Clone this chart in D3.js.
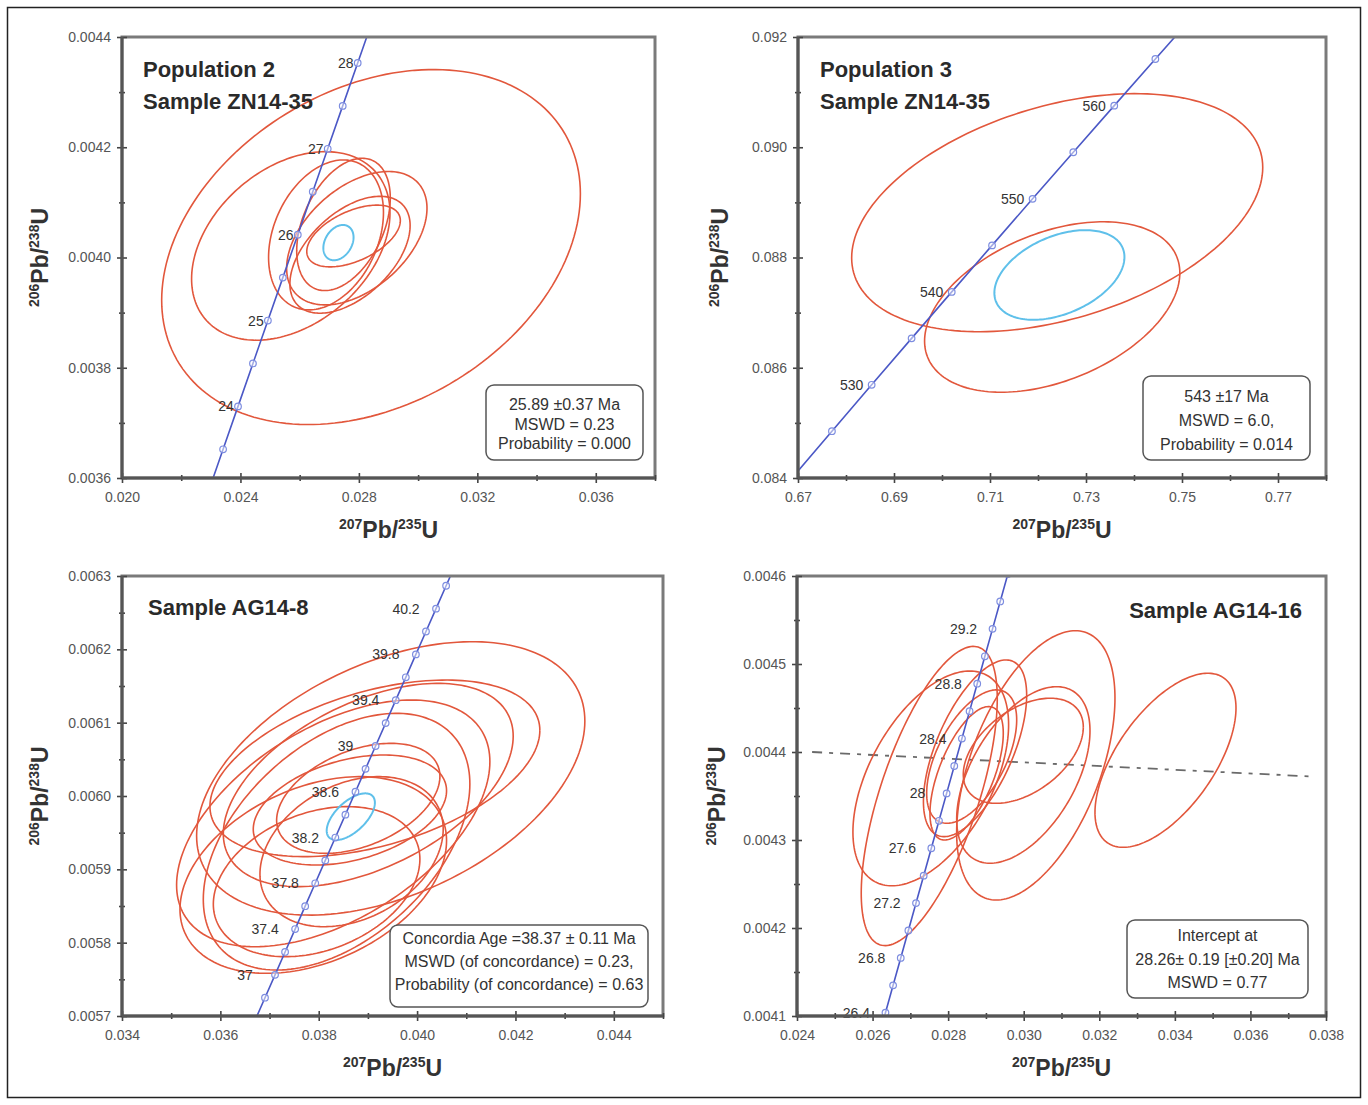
<!DOCTYPE html>
<html>
<head>
<meta charset="utf-8">
<script src="https://cdn.jsdelivr.net/npm/d3@7"></script>
<style>
  body { margin: 0; background: #fff }
  text { font-family: "Liberation Sans", Arial, sans-serif }
</style>
</head>
<body>
<svg id="canvas" width="1368" height="1105"></svg>
<script>
//////////////////////////////////////////
// panel 1 - Population 2, ZN14-35      //
//////////////////////////////////////////
const p1Title = ["Population 2", "Sample ZN14-35"]
const p1XTicks = [0.020, 0.024, 0.028, 0.032, 0.036]
const p1XMinor = [0.022, 0.026, 0.030, 0.034, 0.038]
const p1YTicks = [0.0036, 0.0038, 0.0040, 0.0042, 0.0044]
const p1YMinor = [0.0037, 0.0039, 0.0041, 0.0043]
// concordia points (age Ma, 207Pb/235U, 206Pb/238U)
const p1ConcAge = [23, 23.5, 24, 24.5, 25, 25.5, 26, 26.5, 27, 27.5, 28, 28.5]
const p1Conc207 = [0.02291004, 0.02341386, 0.02391794, 0.02442227, 0.02492684, 0.02543166, 0.02593673, 0.02644206, 0.02694762, 0.02745344, 0.02795951, 0.02846582]
const p1Conc206 = [0.00357424, 0.00365208, 0.00372993, 0.00380779, 0.00388565, 0.00396351, 0.00404138, 0.00411926, 0.00419715, 0.00427504, 0.00435293, 0.00443084]
const p1LabelAges = [24, 25, 26, 27, 28]
// error ellipses : centre, 1 sigma, rho
const p1EllX = [0.02841, 0.02570, 0.02689, 0.02793, 0.02770, 0.02748, 0.02782]
const p1EllSX = [0.00707, 0.00335, 0.00194, 0.00237, 0.00203, 0.00158, 0.00158]
const p1EllY = [0.004019, 0.004021, 0.004041, 0.004035, 0.004005, 0.004060, 0.004039]
const p1EllSY = [0.000322, 0.000171, 0.000136, 0.000121, 0.000106, 0.000120, 0.000056]
const p1EllRho = [0.30, 0.35, 0.30, 0.45, 0.50, 0.40, 0.50]
const p1Mean = [0.02731, 0.00051, 0.004027, 0.000032, 0.30]
const p1Box = ["25.89 \u00b10.37 Ma", "MSWD = 0.23", "Probability = 0.000"]

//////////////////////////////////////////
// panel 2 - Population 3, ZN14-35      //
//////////////////////////////////////////
const p2Title = ["Population 3", "Sample ZN14-35"]
const p2XTicks = [0.67, 0.69, 0.71, 0.73, 0.75, 0.77]
const p2XMinor = [0.68, 0.70, 0.72, 0.74, 0.76, 0.78]
const p2YTicks = [0.084, 0.086, 0.088, 0.090, 0.092]
const p2YMinor = [0.085, 0.087, 0.089, 0.091]
const p2ConcAge = [520, 525, 530, 535, 540, 545, 550, 555, 560, 565, 570]
const p2Conc207 = [0.6688287, 0.6770668, 0.6853453, 0.6936653, 0.7020255, 0.7104274, 0.7188708, 0.7273558, 0.7358826, 0.7444516, 0.7530629]
const p2Conc206 = [0.0840077, 0.0848488, 0.0856906, 0.0865330, 0.0873762, 0.0882198, 0.0890642, 0.0899092, 0.0907549, 0.0916012, 0.0924482]
const p2LabelAges = [530, 540, 550, 560]
const p2EllX = [0.72400, 0.72296]
const p2EllSX = [0.04282, 0.02659]
const p2EllY = [0.088813, 0.087102]
const p2EllSY = [0.002159, 0.001546]
const p2EllRho = [0.38, 0.40]
const p2Mean = [0.72446, 0.01355, 0.087683, 0.000813, 0.40]
const p2Box = ["543 \u00b117 Ma", "MSWD = 6.0,", "Probability = 0.014"]

//////////////////////////////////////////
// panel 3 - AG14-8                     //
//////////////////////////////////////////
const p3Title = ["Sample AG14-8"]
const p3XTicks = [0.034, 0.036, 0.038, 0.040, 0.042, 0.044]
const p3XMinor = [0.035, 0.037, 0.039, 0.041, 0.043, 0.045]
const p3YTicks = [0.0057, 0.0058, 0.0059, 0.0060, 0.0061, 0.0062, 0.0063]
const p3YMinor = [0.00575, 0.00585, 0.00595, 0.00605, 0.00615, 0.00625]
const p3ConcAge = [36.6, 36.8, 37, 37.2, 37.4, 37.6, 37.8, 38, 38.2, 38.4, 38.6, 38.8, 39, 39.2, 39.4, 39.6, 39.8, 40, 40.2, 40.4, 40.6]
const p3Conc207 = [0.03670303, 0.03690724, 0.0371115, 0.03731581, 0.03752015, 0.03772452, 0.03792895, 0.03813341, 0.03833791, 0.03854246, 0.03874704, 0.03895166, 0.03915631, 0.03936102, 0.03956576, 0.03977055, 0.03997537, 0.04018023, 0.04038513, 0.04059008, 0.04079508]
const p3Conc206 = [0.00569372, 0.00572493, 0.00575613, 0.00578733, 0.00581854, 0.00584974, 0.00588095, 0.00591216, 0.00594337, 0.00597458, 0.00600579, 0.00603700, 0.00606821, 0.00609943, 0.00613064, 0.00616186, 0.00619307, 0.00622429, 0.00625551, 0.00628673, 0.00631795]
const p3LabelAges = [37, 37.4, 37.8, 38.2, 38.6, 39, 39.4, 39.8, 40.2]
const p3EllX = [0.039464, 0.039142, 0.039007, 0.038295, 0.038804, 0.038634, 0.037889, 0.037957, 0.038668, 0.038363]
const p3EllSX = [0.003947, 0.003354, 0.002947, 0.003185, 0.001660, 0.001965, 0.002710, 0.002100, 0.001863, 0.002710]
const p3EllY = [0.0060240, 0.0060377, 0.0060150, 0.0059627, 0.0059968, 0.0059809, 0.0058923, 0.0058832, 0.0059241, 0.0059377]
const p3EllSY = [0.0001864, 0.0001204, 0.0001386, 0.0001682, 0.0000750, 0.0000750, 0.0001341, 0.0001023, 0.0001023, 0.0001750]
const p3EllRho = [0.42, 0.43, 0.48, 0.50, 0.40, 0.35, 0.35, 0.30, 0.30, 0.45]
const p3Mean = [0.038652, 0.00049, 0.0059718, 0.0000318, 0.60]
const p3Box = ["Concordia Age =38.37 \u00b1 0.11 Ma", "MSWD (of concordance) = 0.23,", "Probability (of concordance) = 0.63"]

//////////////////////////////////////////
// panel 4 - AG14-16                    //
//////////////////////////////////////////
const p4Title = ["Sample AG14-16"]
const p4XTicks = [0.024, 0.026, 0.028, 0.030, 0.032, 0.034, 0.036, 0.038]
const p4XMinor = [0.025, 0.027, 0.029, 0.031, 0.033, 0.035, 0.037]
const p4YTicks = [0.0041, 0.0042, 0.0043, 0.0044, 0.0045, 0.0046]
const p4YMinor = [0.00415, 0.00425, 0.00435, 0.00445, 0.00455]
const p4ConcAge = [26.2, 26.4, 26.6, 26.8, 27, 27.2, 27.4, 27.6, 27.8, 28, 28.2, 28.4, 28.6, 28.8, 29, 29.2, 29.4, 29.6, 29.8]
const p4Conc207 = [0.02613885, 0.02634099, 0.02654317, 0.02674538, 0.02694764, 0.02714994, 0.02735228, 0.02755466, 0.02775707, 0.02795953, 0.02816202, 0.02836457, 0.02856714, 0.02876976, 0.02897242, 0.02917511, 0.02937785, 0.02958063, 0.02978344]
const p4Conc206 = [0.00407255, 0.00410370, 0.00413485, 0.00416601, 0.00419716, 0.00422831, 0.00425947, 0.00429063, 0.00432179, 0.00435295, 0.00438410, 0.00441527, 0.00444643, 0.00447759, 0.00450875, 0.00453992, 0.00457109, 0.00460225, 0.00463342]
const p4LabelAges = [26.4, 26.8, 27.2, 27.6, 28, 28.4, 28.8, 29.2]
const p4EllX = [0.033752, 0.030320, 0.029990, 0.029989, 0.027540, 0.027500, 0.028712, 0.028623, 0.028489]
const p4EllSX = [0.001866, 0.002095, 0.001764, 0.001588, 0.002060, 0.001800, 0.001366, 0.001191, 0.000970]
const p4EllY = [0.0043906, 0.0043848, 0.0043739, 0.0044014, 0.0043700, 0.0043500, 0.0044042, 0.0043948, 0.0043758]
const p4EllSY = [0.0000989, 0.0001530, 0.0001003, 0.0000597, 0.0001220, 0.0001700, 0.0001004, 0.0000758, 0.0000758]
const p4EllRho = [0.60, 0.50, 0.50, 0.45, 0.50, 0.65, 0.60, 0.55, 0.60]
// discordia (dash-dot) end points
const p4Disc207 = [0.02440, 0.03770]
const p4Disc206 = [0.004400, 0.004372]
const p4Box = ["Intercept at", "28.26\u00b1 0.19 [\u00b10.20] Ma", "MSWD = 0.77"]

// layout per panel (positions / styles only)
const panels = [
  { xDom: [0.020, 0.038], yDom: [0.0036, 0.0044], left: 122, right: 655, top: 37, bottom: 478,
    xFmt: ".3f", yFmt: ".4f", xTicks: p1XTicks, xMinor: p1XMinor, yTicks: p1YTicks, yMinor: p1YMinor,
    age: p1ConcAge, c207: p1Conc207, c206: p1Conc206, labelAges: p1LabelAges, labelDx: -12,
    ex: p1EllX, esx: p1EllSX, ey: p1EllY, esy: p1EllSY, erho: p1EllRho, mean: p1Mean,
    title: p1Title, titleX: 143, titleY: [77, 109], titleAnchor: "start",
    box: p1Box, boxR: [486, 385, 157, 75], boxY: [410, 429.5, 448.5], yTitleX: 48 },
  { xDom: [0.67, 0.78], yDom: [0.084, 0.092], left: 798, right: 1326, top: 37, bottom: 478,
    xFmt: ".2f", yFmt: ".3f", xTicks: p2XTicks, xMinor: p2XMinor, yTicks: p2YTicks, yMinor: p2YMinor,
    age: p2ConcAge, c207: p2Conc207, c206: p2Conc206, labelAges: p2LabelAges, labelDx: -20,
    ex: p2EllX, esx: p2EllSX, ey: p2EllY, esy: p2EllSY, erho: p2EllRho, mean: p2Mean,
    title: p2Title, titleX: 820, titleY: [77, 109], titleAnchor: "start",
    box: p2Box, boxR: [1143, 376, 167, 84], boxY: [402, 426, 450], yTitleX: 728 },
  { xDom: [0.034, 0.045], yDom: [0.0057, 0.0063], left: 122, right: 663, top: 576, bottom: 1016,
    xFmt: ".3f", yFmt: ".4f", xTicks: p3XTicks, xMinor: p3XMinor, yTicks: p3YTicks, yMinor: p3YMinor,
    age: p3ConcAge, c207: p3Conc207, c206: p3Conc206, labelAges: p3LabelAges, labelDx: -30,
    ex: p3EllX, esx: p3EllSX, ey: p3EllY, esy: p3EllSY, erho: p3EllRho, mean: p3Mean,
    title: p3Title, titleX: 148, titleY: [615], titleAnchor: "start",
    box: p3Box, boxR: [390, 925, 258, 82], boxY: [944, 967, 990], yTitleX: 48 },
  { xDom: [0.024, 0.038], yDom: [0.0041, 0.0046], left: 797, right: 1326, top: 576, bottom: 1016,
    xFmt: ".3f", yFmt: ".4f", xTicks: p4XTicks, xMinor: p4XMinor, yTicks: p4YTicks, yMinor: p4YMinor,
    age: p4ConcAge, c207: p4Conc207, c206: p4Conc206, labelAges: p4LabelAges, labelDx: -29,
    ex: p4EllX, esx: p4EllSX, ey: p4EllY, esy: p4EllSY, erho: p4EllRho, mean: null,
    disc: [p4Disc207, p4Disc206],
    title: p4Title, titleX: 1302, titleY: [618], titleAnchor: "end",
    box: p4Box, boxR: [1127, 920, 181, 78], boxY: [941, 965, 988], yTitleX: 725 }
]

const RED = "#e2573c"
const BLUE = "#5fc0ea"
const CONC = "#4b58c6"

const svg = d3.select('#canvas')

// figure outline
svg.append("rect")
  .attr("x", 7.5).attr("y", 7.5).attr("width", 1353).attr("height", 1090)
  .attr("fill", "none").attr("stroke", "#222").attr("stroke-width", 1.5)

// ellipse from centre / sigma / rho, in data space then scaled
const ellipseD = (x, y, cx, sx, cy, sy, rho) => {
  const pts = d3.range(0, 181).map(i => {
    const t = i / 180 * 2 * Math.PI
    const dx = sx * Math.cos(t)
    const dy = sy * (rho * Math.cos(t) + Math.sqrt(1 - rho * rho) * Math.sin(t))
    return [x(cx + dx), y(cy + dy)]
  })
  return d3.line()(pts)
}

// iso ratio label like 207Pb/235U
const isoText = (sel, m1, m2) => {
  sel.append("tspan").attr("font-size", 14).attr("dy", -9).text(m1)
  sel.append("tspan").attr("font-size", 23).attr("dy", 9).text("Pb/")
  sel.append("tspan").attr("font-size", 14).attr("dy", -9).text(m2)
  sel.append("tspan").attr("font-size", 23).attr("dy", 9).text("U")
}

const drawPanel = (p, k) => {
  const x = d3.scaleLinear().domain(p.xDom).range([p.left, p.right])
  const y = d3.scaleLinear().domain(p.yDom).range([p.bottom, p.top])
  const g = svg.append("g")

  g.append("clipPath").attr("id", "clip" + k)
    .append("rect")
    .attr("x", p.left).attr("y", p.top)
    .attr("width", p.right - p.left).attr("height", p.bottom - p.top)

  const plot = g.append("g").attr("clip-path", `url(#clip${k})`)

  // discordia line
  if (p.disc) {
    plot.append("path")
      .attr("d", d3.line()(p.disc[0].map((v, i) => [x(v), y(p.disc[1][i])])))
      .attr("fill", "none").attr("stroke", "#6a6a6a").attr("stroke-width", 1.8)
      .attr("stroke-dasharray", "10,7,4,7")
  }

  // red error ellipses
  plot.selectAll("path.ell")
    .data(p.ex)
    .enter()
    .append("path")
    .attr("class", "ell")
    .attr("d", (d, i) => ellipseD(x, y, d, p.esx[i], p.ey[i], p.esy[i], p.erho[i]))
    .attr("fill", "none").attr("stroke", RED).attr("stroke-width", 1.6)

  // mean / concordia-age ellipse
  if (p.mean) {
    const m = p.mean
    plot.append("path")
      .attr("d", ellipseD(x, y, m[0], m[1], m[2], m[3], m[4]))
      .attr("fill", "none").attr("stroke", BLUE).attr("stroke-width", 2)
  }

  // concordia curve + age markers
  const cpts = p.c207.map((v, i) => [x(v), y(p.c206[i])])
  plot.append("path")
    .attr("d", d3.line()(cpts))
    .attr("fill", "none").attr("stroke", CONC).attr("stroke-width", 1.6)

  plot.selectAll("circle")
    .data(cpts)
    .enter()
    .append("circle")
    .attr("cx", d => d[0]).attr("cy", d => d[1]).attr("r", 3.3)
    .attr("fill", "#fff").attr("fill-opacity", 0.5)
    .attr("stroke", "#7d8de0").attr("stroke-width", 1.2)

  // age labels
  p.labelAges.forEach(a => {
    const i = p.age.indexOf(a)
    g.append("text")
      .attr("x", x(p.c207[i]) + p.labelDx)
      .attr("y", y(p.c206[i]) + 5)
      .attr("text-anchor", "middle")
      .attr("font-size", 14)
      .attr("fill", "#333")
      .text(a)
  })

  // frame
  g.append("rect")
    .attr("x", p.left).attr("y", p.top)
    .attr("width", p.right - p.left).attr("height", p.bottom - p.top)
    .attr("fill", "none").attr("stroke", "#7a7a7a").attr("stroke-width", 3)

  // axes : labels + ticks crossing the frame
  const xAx = g.append("g").attr("transform", `translate(0,${p.bottom})`)
    .call(d3.axisBottom(x).tickValues(p.xTicks).tickFormat(d3.format(p.xFmt)).tickSize(5).tickPadding(9))
  g.append("g").attr("transform", `translate(0,${p.bottom})`)
    .call(d3.axisTop(x).tickValues(p.xTicks).tickFormat("").tickSize(5))
  g.append("g").attr("transform", `translate(0,${p.bottom})`)
    .call(d3.axisBottom(x).tickValues(p.xMinor).tickFormat("").tickSize(3))
  g.append("g").attr("transform", `translate(0,${p.bottom})`)
    .call(d3.axisTop(x).tickValues(p.xMinor).tickFormat("").tickSize(3))

  const yAx = g.append("g").attr("transform", `translate(${p.left},0)`)
    .call(d3.axisLeft(y).tickValues(p.yTicks).tickFormat(d3.format(p.yFmt)).tickSize(5).tickPadding(6))
  g.append("g").attr("transform", `translate(${p.left},0)`)
    .call(d3.axisRight(y).tickValues(p.yTicks).tickFormat("").tickSize(5))
  g.append("g").attr("transform", `translate(${p.left},0)`)
    .call(d3.axisLeft(y).tickValues(p.yMinor).tickFormat("").tickSize(3))
  g.append("g").attr("transform", `translate(${p.left},0)`)
    .call(d3.axisRight(y).tickValues(p.yMinor).tickFormat("").tickSize(3))

  g.selectAll(".domain").remove()
  g.selectAll(".tick line").attr("stroke", "#444").attr("stroke-width", 1.6)
  g.selectAll(".tick text").attr("font-size", 14).attr("fill", "#555")
    .attr("font-family", "'Liberation Sans', Arial, sans-serif")

  // left + bottom axis lines darker
  g.append("line").attr("x1", p.left).attr("x2", p.right).attr("y1", p.bottom).attr("y2", p.bottom)
    .attr("stroke", "#555").attr("stroke-width", 3)
  g.append("line").attr("x1", p.left).attr("x2", p.left).attr("y1", p.top).attr("y2", p.bottom)
    .attr("stroke", "#555").attr("stroke-width", 3)

  // axis titles
  const xt = g.append("text")
    .attr("x", (p.left + p.right) / 2).attr("y", p.bottom + 60)
    .attr("text-anchor", "middle").attr("font-weight", "bold").attr("fill", "#333")
  isoText(xt, "207", "235")
  const yt = g.append("text")
    .attr("transform", `translate(${p.yTitleX},${(p.top + p.bottom) / 2}) rotate(-90)`)
    .attr("text-anchor", "middle").attr("font-weight", "bold").attr("fill", "#333")
  isoText(yt, "206", "238")

  // sample titles
  p.title.forEach((t, i) => {
    g.append("text")
      .attr("x", p.titleX).attr("y", p.titleY[i])
      .attr("text-anchor", p.titleAnchor)
      .attr("font-size", 22).attr("font-weight", "bold").attr("fill", "#2a2a2a")
      .text(t)
  })

  // result box
  const [bx, by, bw, bh] = p.boxR
  g.append("rect")
    .attr("x", bx).attr("y", by).attr("width", bw).attr("height", bh)
    .attr("rx", 8).attr("ry", 8)
    .attr("fill", "#fff").attr("stroke", "#555").attr("stroke-width", 1.5)
  p.box.forEach((t, i) => {
    g.append("text")
      .attr("x", bx + bw / 2).attr("y", p.boxY[i])
      .attr("text-anchor", "middle")
      .attr("font-size", 16).attr("fill", "#333")
      .text(t)
  })
}

panels.forEach(drawPanel)
</script>
</body>
</html>
